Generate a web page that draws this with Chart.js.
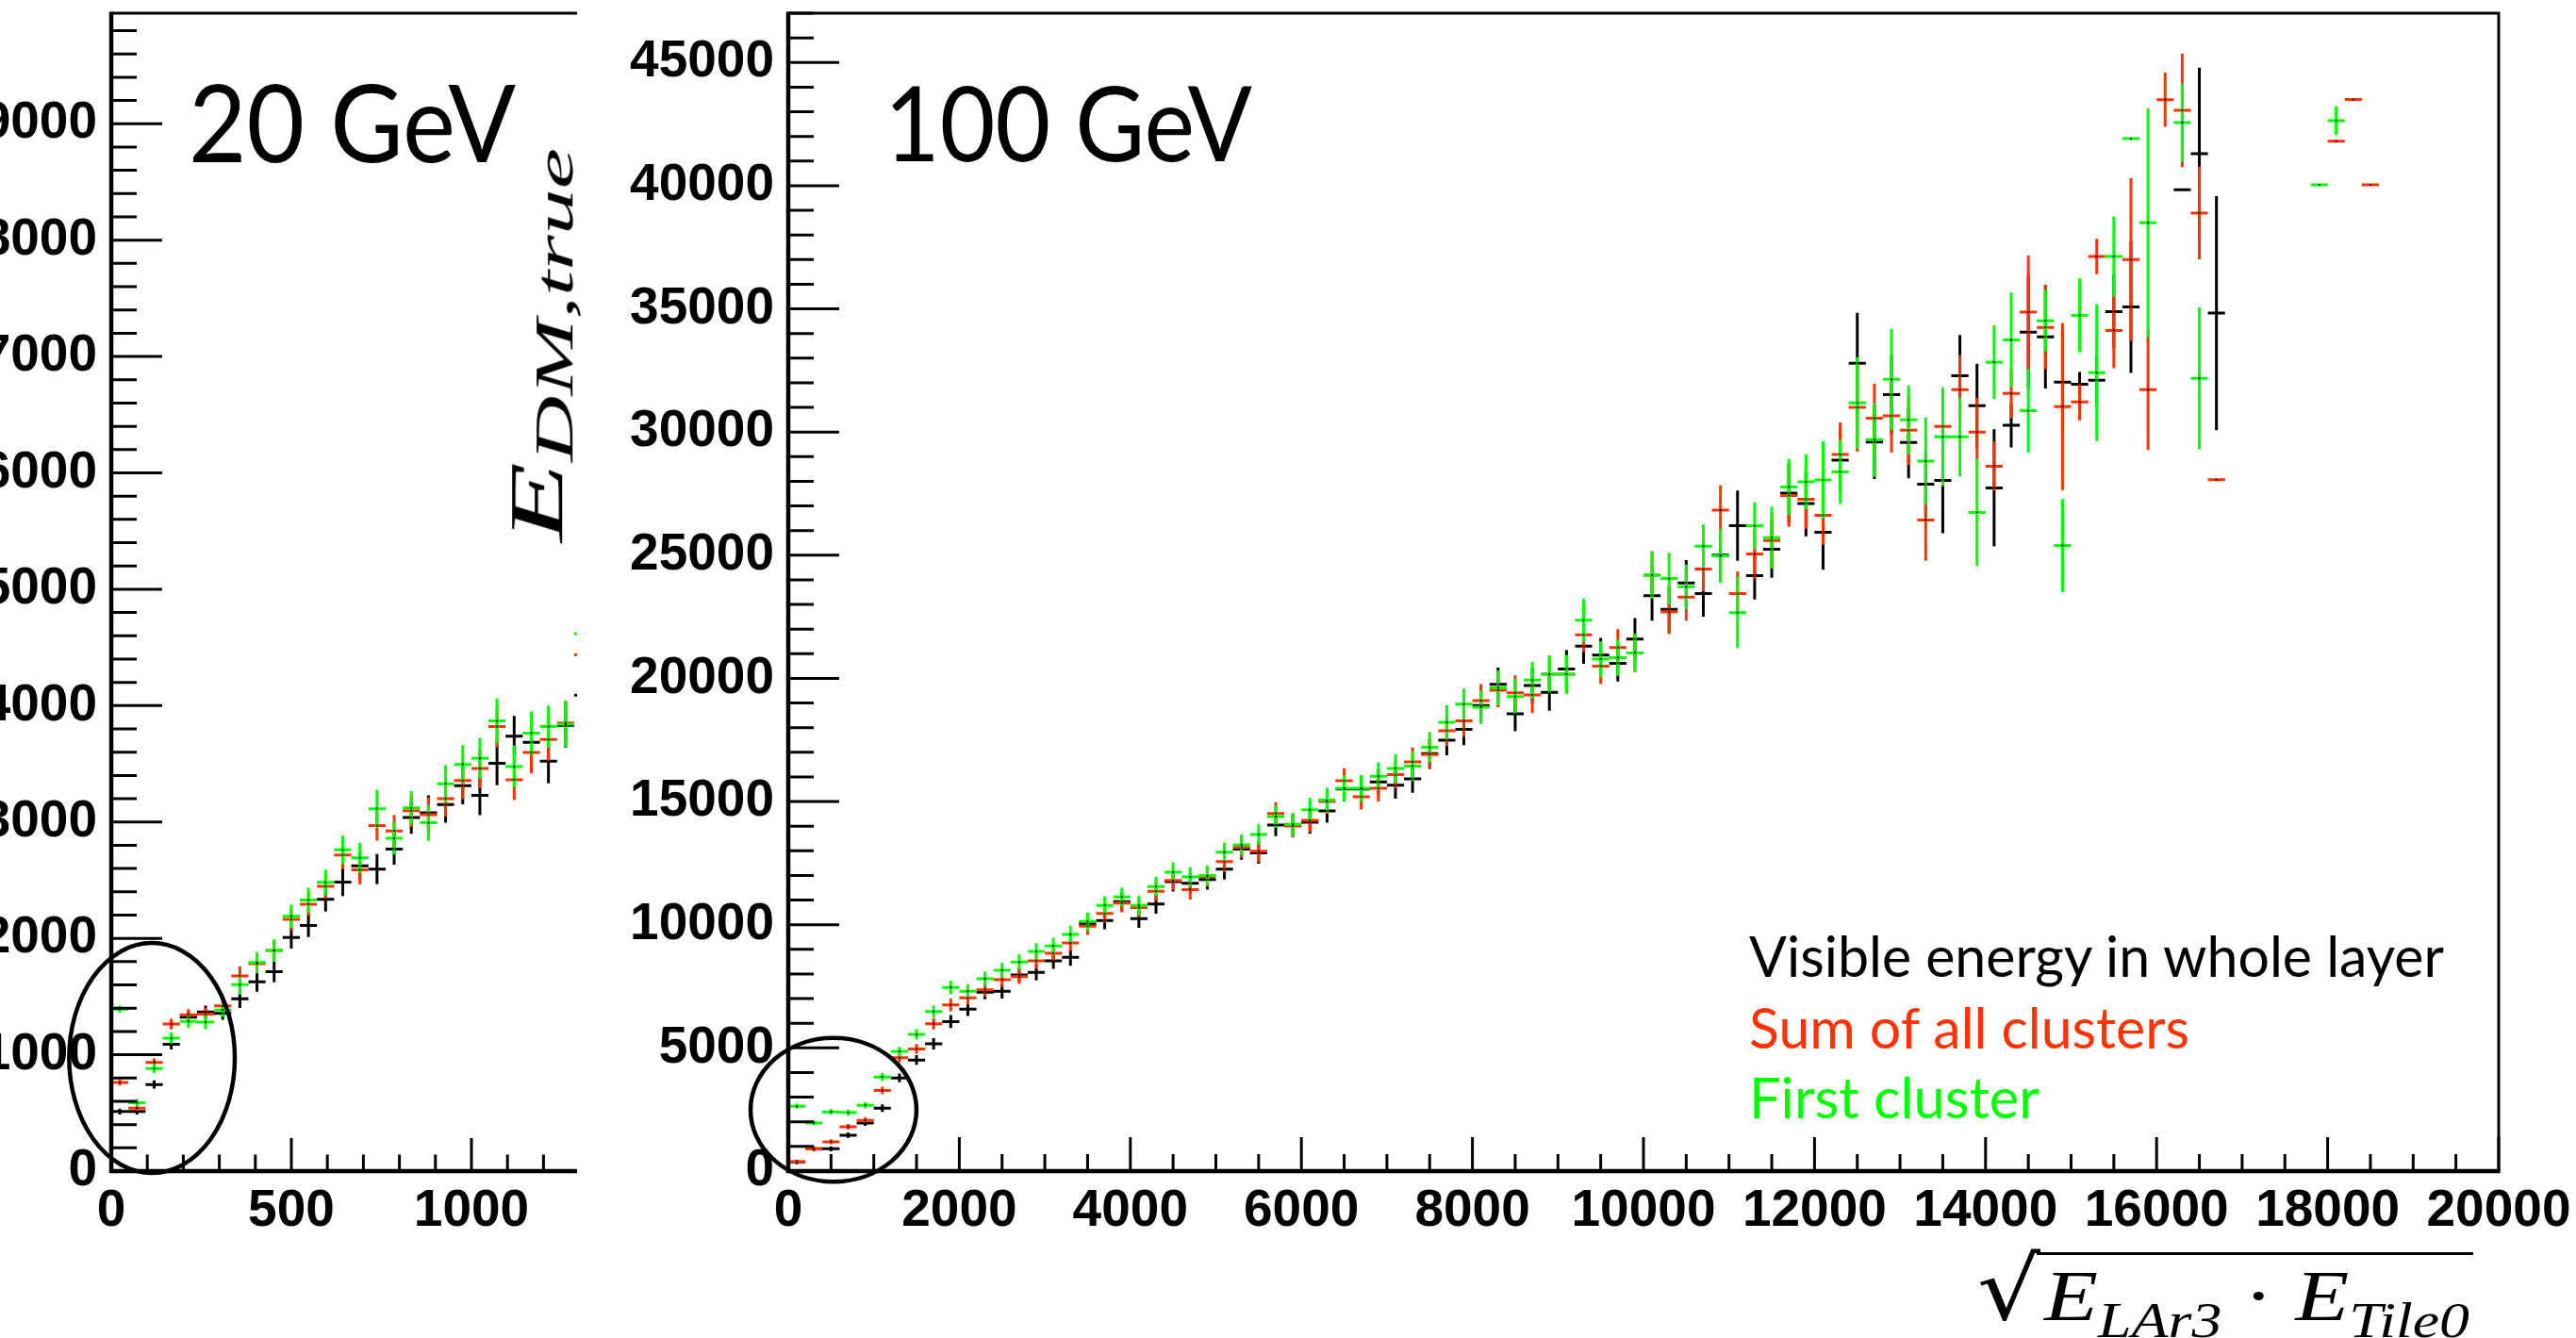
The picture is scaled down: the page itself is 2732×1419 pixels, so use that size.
<!DOCTYPE html>
<html>
<head>
<meta charset="utf-8">
<title>E_DM,true vs sqrt(E_LAr3 E_Tile0)</title>
<script src="https://cdn.jsdelivr.net/npm/chart.js@4.4.1/dist/chart.umd.min.js"></script>
<style>
  html, body { margin: 0; padding: 0; background: #fff; }
  body { position: relative; width: 2732px; height: 1419px; overflow: hidden; }
  #left-wrap { position: absolute; left: 0; top: 0; width: 612px; height: 1419px; overflow: hidden; }
  #left-plot { position: absolute; left: -250px; top: 0; }
  #right-plot { position: absolute; left: 600px; top: 0; }
  .txt { position: absolute; white-space: nowrap; line-height: 1; transform-origin: 0 0; font-family: Lato, 'Open Sans', sans-serif; color: #000; }
  .math { font-family: 'Liberation Serif', 'DejaVu Serif', serif; font-style: italic; }
  .up { font-style: normal; }
</style>
</head>
<body>
<div id="left-wrap"><canvas id="left-plot" width="1250" height="1419"></canvas></div>
<canvas id="right-plot" width="2132" height="1419"></canvas>

<div class="txt" data-w="347" style="left:200px; top:71px; font-size:114px;">20 GeV</div>
<div class="txt" data-w="390" style="left:938px; top:73px; font-size:110px;">100 GeV</div>

<div class="txt" id="leg0" data-w="737" style="left:1855px; top:983px; font-size:60px;"></div>
<div class="txt" id="leg1" data-w="467" style="left:1855px; top:1059px; font-size:60px;"></div>
<div class="txt" id="leg2" data-w="308" style="left:1855px; top:1133px; font-size:60px;"></div>

<!-- y axis title, rotated and squeezed like the original -->
<div class="txt math" data-w="418" data-rot="-90" data-sy="0.8" style="left:530px; top:575px; font-size:100px;">E<span style="font-size:70px; position:relative; top:14px;">DM,true</span></div>

<!-- x axis title -->
<div class="txt" data-w="67" style="left:2097px; top:1322px; font-family:'DejaVu Sans'; font-size:92px;">√</div>
<div style="position:absolute; left:2160px; top:1328px; width:463px; border-top:3px solid #000;"></div>
<div class="txt math" data-w="451" style="left:2168px; top:1336px; font-size:76px;">E<span style="font-size:52px; position:relative; top:18px;">LAr3</span><span class="up"> · </span>E<span style="font-size:52px; position:relative; top:18px;">Tile0</span></div>

<script>
// ---------------- 100 GeV panel (bins of 200) ----------------
const rightBins = [100, 300, 500, 700, 900, 1100, 1300, 1500, 1700, 1900,
  2100, 2300, 2500, 2700, 2900, 3100, 3300, 3500, 3700, 3900,
  4100, 4300, 4500, 4700, 4900, 5100, 5300, 5500, 5700, 5900,
  6100, 6300, 6500, 6700, 6900, 7100, 7300, 7500, 7700, 7900,
  8100, 8300, 8500, 8700, 8900, 9100, 9300, 9500, 9700, 9900,
  10100, 10300, 10500, 10700, 10900, 11100, 11300, 11500, 11700, 11900,
  12100, 12300, 12500, 12700, 12900, 13100, 13300, 13500, 13700, 13900,
  14100, 14300, 14500, 14700, 14900, 15100, 15300, 15500, 15700, 15900,
  16100, 16300, 16500, 16700, 17900, 18100, 18300, 18500];

const rightVisible = [370, 905, 908, 1457, 1955, 2556, 3783, 4511, 5163, 6070,
  6569, 7259, 7297, 7960, 8063, 8536, 8677, 10050, 10173, 10939,
  10250, 10837, 11750, 11680, 11834, 12257, 13074, 12920, 14045, 14050,
  14160, 14620, 15515, 15515, 15796, 15668, 15924, 16950, 17495, 17931,
  18900, 19754, 18558, 19709, 19429, 20385, 21305, 20946, 20614, 21598,
  23361, 22800, 23874, 23438, 25000, 26198, 24167, 25240, 27515, 27093,
  25931, 28858, 32794, 29597, 31515, 29573, 27885, 28039, 32282, 31067,
  27732, 30277, 34058, 33866, 32026, 31937, 32103, 34889, 35081, null,
  null, 39835, 41293, 34825, null, null, null, null];
const rightVisibleErr = [90, 100, 100, 110, 120, 150, 180, 200, 230, 260,
  270, 280, 290, 300, 320, 330, 340, 350, 360, 370,
  380, 390, 400, 400, 410, 420, 430, 440, 450, 460,
  470, 480, 500, 510, 530, 550, 570, 590, 615, 640,
  660, 680, 700, 720, 740, 760, 716, 700, 740, 850,
  1020, 950, 930, 930, 1050, 1430, 960, 1160, 1200, 1330,
  1520, 1300, 2045, 1500, 1600, 1450, 1300, 2150, 1660, 1700,
  2380, 900, 2300, 2100, 2000, 500, 1000, 1500, 2680, 0,
  0, 0, 3500, 4750, 0, 0, 0, 0];

const rightSum = [383, 908, 1189, 1802, 2058, 3271, 4601, 4959, 5981, 6748,
  7029, 7361, 7770, 7898, 8536, 8843, 9266, 9942, 10455, 10875,
  10700, 11361, 11796, 11425, 11960, 12563, 13150, 12985, 14518, 14007,
  14237, 15000, 15847, 15195, 15540, 16090, 16614, 16908, 17878, 18276,
  19095, 19517, 19413, 19325, 20168, 20167, 21765, 20500, 21253, 21036,
  24193, 22697, 23298, 24435, 26826, 23438, 25048, 25599, 27426, 27272,
  26621, 29088, 31000, 30557, 30660, 30071, 26429, 30225, 31720, 29994,
  28614, 31566, 34863, 34250, 31029, 31221, 37125, 34123, 36998, 31720,
  43490, 43056, 38890, 28065, null, 41803, 43497, 40038];
const rightSumErr = [90, 90, 100, 110, 120, 150, 180, 200, 230, 260,
  270, 280, 290, 300, 320, 330, 340, 350, 360, 370,
  380, 390, 400, 400, 410, 420, 430, 440, 460, 470,
  480, 490, 510, 520, 540, 560, 580, 600, 620, 650,
  670, 690, 710, 730, 750, 770, 700, 720, 740, 780,
  960, 900, 960, 900, 1010, 900, 1000, 1100, 1280, 1200,
  1200, 1300, 1800, 1400, 1500, 1400, 1660, 1500, 1400, 1400,
  1000, 1000, 2300, 1700, 3390, 750, 720, 1530, 3300, 2450,
  1100, 2300, 1880, 0, 0, 0, 0, 0];

const rightFirst = [2633, 1955, 2403, 2378, 2671, 3822, 4857, 5547, 6479, 7451,
  7297, 7809, 8155, 8485, 8920, 9137, 9611, 10134, 10785, 11131,
  10785, 11552, 12128, 11937, 12000, 12946, 13240, 13661, 14390, 14071,
  14672, 15056, 15540, 15540, 16026, 16346, 16436, 17203, 18223, 18951,
  18827, 19617, 19260, 19927, 20168, 20167, 22365, 20780, 20844, 21036,
  24193, 24051, 23720, 25369, 24971, 22671, 26198, 25714, 27770, 27976,
  28053, 28384, 31183, 29687, 32141, 30492, 28820, 29802, 29802, 26736,
  32832, 33739, 30864, 34518, 25393, 34736, 32409, 37125, 41906, 38493,
  null, 42557, 32180, null, 40038, 42641, null, null];
const rightFirstErr = [100, 100, 110, 120, 130, 160, 190, 210, 240, 270,
  280, 290, 300, 310, 330, 340, 350, 360, 370, 380,
  390, 390, 400, 410, 410, 390, 420, 430, 450, 460,
  480, 500, 520, 540, 560, 580, 600, 620, 690, 640,
  680, 700, 720, 740, 760, 780, 870, 720, 740, 780,
  960, 1050, 900, 880, 1100, 1440, 950, 1260, 1140, 1110,
  1570, 1300, 1850, 1500, 2045, 1400, 1770, 2000, 1600, 2185,
  1500, 1920, 1700, 1250, 1890, 1500, 2780, 1630, 0, 4650,
  0, 1590, 2880, 0, 0, 575, 0, 0];

// ---------------- 20 GeV panel (bins of 47.6) ----------------
const leftBins = [23.8, 71.4, 119, 166.6, 214.2, 261.8, 309.4, 357, 404.6, 452.2,
  499.8, 547.4, 595, 642.6, 690.2, 737.8, 785.4, 833, 880.6, 928.2,
  975.8, 1023.4, 1071, 1118.6, 1166.2, 1213.8, 1261.4, 1309];
const leftVisible = [512, 512, 744, 1090, 1322, 1367, 1356, 1481, 1626, 1713,
  2007, 2111, 2336, 2484, 2623, 2595, 2768, 3038, 3079, 3149,
  3311, 3228, 3505, 3737, 3685, 3522, 3830, 4090];
const leftVisibleErr = [25, 25, 35, 45, 50, 55, 55, 80, 85, 90,
  95, 100, 105, 120, 125, 130, 135, 140, 150, 155,
  160, 170, 190, 175, 180, 190, 190, 200];
const leftSum = [761, 540, 934, 1263, 1342, 1349, 1419, 1678, 1782, 1896,
  2163, 2294, 2446, 2716, 2588, 2969, 2924, 3097, 3062, 3201,
  3356, 3460, 3820, 3363, 3598, 3709, 3851, 4436];
const leftSumErr = [25, 25, 35, 45, 50, 55, 55, 80, 85, 90,
  95, 100, 105, 120, 125, 130, 135, 140, 150, 155,
  160, 170, 180, 175, 180, 185, 190, 200];
const leftFirst = [1391, 588, 882, 1142, 1287, 1280, 1384, 1602, 1792, 1896,
  2190, 2329, 2481, 2761, 2692, 3114, 2861, 3121, 2993, 3329,
  3495, 3547, 3868, 3477, 3764, 3820, 3841, 4619];
const leftFirstErr = [30, 30, 40, 50, 55, 60, 60, 85, 90, 95,
  100, 105, 110, 121, 130, 163, 140, 145, 155, 160,
  165, 175, 194, 180, 185, 180, 195, 200];

// axis tick labels
const rightXTicks = [0, 2000, 4000, 6000, 8000, 10000, 12000, 14000, 16000, 18000, 20000];
const rightYTicks = [0, 5000, 10000, 15000, 20000, 25000, 30000, 35000, 40000, 45000];
const leftXTicks = [0, 500, 1000, 1500, 2000];
const leftYTicks = [0, 1000, 2000, 3000, 4000, 5000, 6000, 7000, 8000, 9000];

const seriesNames = ['Visible energy in whole layer', 'Sum of all clusters', 'First cluster'];
const seriesColors = ['#000000', '#ff3300', '#00ff00'];

Chart.defaults.font.family = 'Liberation Sans';

function makeDatasets(bins, series, errors, binWidth) {
  return series.map((vals, i) => ({
    label: seriesNames[i],
    data: bins.map((x, j) => ({ x: x, y: vals[j], err: errors[i][j] })).filter(p => p.y !== null),
    binWidth: binWidth,
    barColor: seriesColors[i],
    pointStyle: 'rect',
    pointRadius: 1.3,
    pointBackgroundColor: '#000',
    pointBorderWidth: 0
  }));
}

// ROOT style error crosses: horizontal bar = bin width, vertical bar = error
const errorBars = {
  id: 'errorBars',
  beforeDatasetsDraw(chart) {
    const { ctx, chartArea: a, scales: { x, y } } = chart;
    ctx.save();
    ctx.beginPath();
    ctx.rect(a.left, a.top, a.right - a.left, a.bottom - a.top);
    ctx.clip();
    ctx.lineWidth = 3;
    chart.data.datasets.forEach(ds => {
      ctx.strokeStyle = ds.barColor;
      ctx.beginPath();
      ds.data.forEach(pt => {
        const px = x.getPixelForValue(pt.x);
        const py = y.getPixelForValue(pt.y);
        ctx.moveTo(x.getPixelForValue(pt.x - ds.binWidth / 2), py);
        ctx.lineTo(x.getPixelForValue(pt.x + ds.binWidth / 2), py);
        if (pt.err > 0) {
          ctx.moveTo(px, y.getPixelForValue(pt.y + pt.err));
          ctx.lineTo(px, y.getPixelForValue(pt.y - pt.err));
        }
      });
      ctx.stroke();
    });
    ctx.restore();
  }
};

// frame, inward ticks and the hand-drawn ellipse
const frame = {
  id: 'frame',
  afterDatasetsDraw(chart, args, o) {
    const { ctx, chartArea: a, scales: { x, y } } = chart;
    ctx.save();
    ctx.strokeStyle = '#000';
    ctx.lineWidth = 3;
    ctx.beginPath();
    const nx = Math.round((x.max - x.min) / o.xMinor);
    for (let i = 0; i <= nx; i++) {
      const p = x.getPixelForValue(x.min + i * o.xMinor);
      const len = i % o.xPer === 0 ? o.xLen : o.xLen / 2;
      ctx.moveTo(p, a.bottom);
      ctx.lineTo(p, a.bottom - len);
    }
    const ny = Math.floor((y.max - y.min) / o.yMinor + 1e-6);
    for (let i = 0; i <= ny; i++) {
      const p = y.getPixelForValue(y.min + i * o.yMinor);
      const len = i % o.yPer === 0 ? o.yLen : o.yLen / 2;
      ctx.moveTo(a.left, p);
      ctx.lineTo(a.left + len, p);
    }
    ctx.stroke();

    ctx.lineWidth = 3;
    ctx.beginPath();
    ctx.moveTo(a.left, a.top);
    ctx.lineTo(a.right, a.top);
    ctx.lineTo(a.right, a.bottom);
    ctx.stroke();

    ctx.lineWidth = 4.5;
    ctx.beginPath();
    ctx.moveTo(a.left, a.top - 1.5);
    ctx.lineTo(a.left, a.bottom);
    ctx.lineTo(a.right + 1.5, a.bottom);
    ctx.stroke();

    const e = o.ellipse;
    if (e) {
      const cx = x.getPixelForValue(e.x), cy = y.getPixelForValue(e.y);
      const rx = Math.abs(x.getPixelForValue(e.x + e.rx) - cx);
      const ry = Math.abs(y.getPixelForValue(e.y + e.ry) - cy);
      ctx.lineWidth = 4.5;
      ctx.beginPath();
      ctx.ellipse(cx, cy, rx, ry, 0, 0, Math.PI * 2);
      ctx.stroke();
    }
    ctx.restore();
  }
};

const labelFont = { family: 'Liberation Sans', size: 55, weight: 'bold' };

function makeChart(canvasId, cfg) {
  return new Chart(document.getElementById(canvasId), {
    type: 'scatter',
    data: { datasets: makeDatasets(cfg.bins, cfg.series, cfg.errors, cfg.binWidth) },
    options: {
      responsive: false,
      animation: false,
      devicePixelRatio: 1,
      events: [],
      layout: { padding: cfg.padding },
      plugins: { legend: { display: false }, tooltip: { enabled: false }, frame: cfg.frame },
      scales: {
        x: {
          type: 'linear', min: cfg.xMin, max: cfg.xMax,
          grid: { display: false, drawTicks: false }, border: { display: false },
          afterBuildTicks: s => { s.ticks = cfg.xTicks.map(v => ({ value: v })); },
          afterFit: s => { s.height = cfg.xAxisHeight; s.paddingLeft = 0; s.paddingRight = 0; },
          ticks: { font: labelFont, color: '#000', padding: 10, autoSkip: false, maxRotation: 0, callback: v => String(v) }
        },
        y: {
          type: 'linear', min: cfg.yMin, max: cfg.yMax,
          grid: { display: false, drawTicks: false }, border: { display: false },
          afterBuildTicks: s => { s.ticks = cfg.yTicks.map(v => ({ value: v })); },
          afterFit: s => { s.width = cfg.yAxisWidth; s.paddingTop = 0; s.paddingBottom = 0; },
          ticks: { font: labelFont, color: '#000', padding: 15, autoSkip: false, callback: v => String(v) }
        }
      }
    },
    plugins: [errorBars, frame]
  });
}

makeChart('left-plot', {
  bins: leftBins,
  series: [leftVisible, leftSum, leftFirst],
  errors: [leftVisibleErr, leftSumErr, leftFirstErr],
  binWidth: 47.6,
  xMin: 0, xMax: 2000, yMin: 0, yMax: 9950,
  xTicks: leftXTicks, yTicks: leftYTicks,
  padding: { left: 0, top: 14, right: 118, bottom: 77 },
  xAxisHeight: 100, yAxisWidth: 368,
  frame: { xMinor: 100, xPer: 5, xLen: 35, yMinor: 200, yPer: 5, yLen: 54,
           ellipse: { x: 113, y: 972, rx: 230, ry: 988 } }
});

makeChart('right-plot', {
  bins: rightBins,
  series: [rightVisible, rightSum, rightFirst],
  errors: [rightVisibleErr, rightSumErr, rightFirstErr],
  binWidth: 200,
  xMin: 0, xMax: 20000, yMin: 0, yMax: 47000,
  xTicks: rightXTicks, yTicks: rightYTicks,
  padding: { left: 0, top: 14, right: 82, bottom: 77 },
  xAxisHeight: 100, yAxisWidth: 236,
  frame: { xMinor: 500, xPer: 4, xLen: 36, yMinor: 1000, yPer: 5, yLen: 54,
           ellipse: { x: 529, y: 2490, rx: 970, ry: 2920 } }
});

// legend texts
seriesNames.forEach((name, i) => {
  const el = document.getElementById('leg' + i);
  el.textContent = name;
  el.style.color = seriesColors[i];
});

// squeeze/stretch texts horizontally to the widths seen in the original
function fitText() {
  document.querySelectorAll('[data-w]').forEach(el => {
    el.style.transform = 'none';
    const w = el.getBoundingClientRect().width;
    const sx = parseFloat(el.dataset.w) / w;
    const sy = el.dataset.sy ? parseFloat(el.dataset.sy) : 1;
    const rot = el.dataset.rot ? 'rotate(' + el.dataset.rot + 'deg) ' : '';
    el.style.transform = rot + 'scale(' + sx + ',' + sy + ')';
  });
}
fitText();
if (document.fonts && document.fonts.ready) document.fonts.ready.then(fitText);
</script>
</body>
</html>
